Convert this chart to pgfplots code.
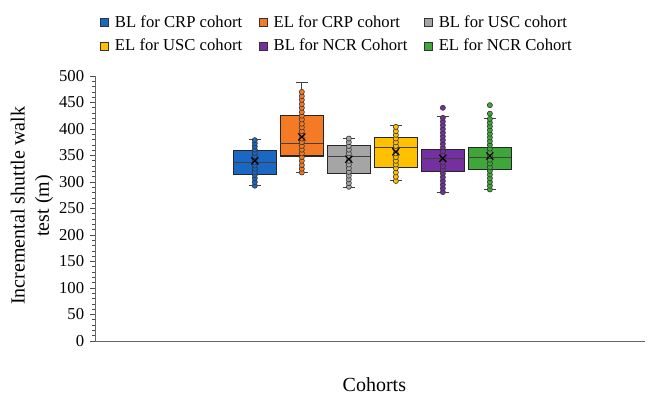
\documentclass[border=0pt]{standalone}
\usepackage{pgfplots}
\pgfplotsset{compat=1.18}
\usepackage{fontspec}
\setmainfont{Liberation Serif}
\definecolor{cblue}{HTML}{1A67C4}
\definecolor{corange}{HTML}{F57A25}
\definecolor{cgray}{HTML}{A5A5A5}
\definecolor{cyellow}{HTML}{FFC000}
\definecolor{cpurple}{HTML}{7430A0}
\definecolor{cgreen}{HTML}{3FA63A}
\pgfplotsset{
  sqimg/.style={legend image code/.code={\draw[##1, line width=0.5pt] (0pt,-2.4pt) rectangle (4.8pt,2.4pt);}},
  ptstyle/.style={only marks, mark=*, mark size=1.55pt, mark options={fill=#1, draw=black!80, line width=0.35pt}},
  boxstyle/.style={fill=#1, draw=black!85, line width=0.65pt},
  lnstyle/.style={draw=black!75, line width=0.6pt},
  meanstyle/.style={only marks, mark=x, mark size=3pt, black, mark options={line width=0.7pt}},
}
\begin{document}
\begin{tikzpicture}
\begin{axis}[
  scale only axis, width=330pt, height=159pt,
  xmin=-2.4, xmax=9.3, ymin=0, ymax=500,
  axis x line=bottom, axis y line=left,
  axis line style={-, black!60, line width=0.5pt},
  xtick=\empty,
  ytick={0,50,...,500},
  minor y tick num=4,
  tick align=outside,
  major tick length=3pt, minor tick length=1.5pt,
  tick style={black!70, line width=0.4pt},
  /pgf/number format/assume math mode=true,
  yticklabel style={font=\fontsize{10}{12}\selectfont},
  xlabel={Cohorts},
  xlabel style={font=\fontsize{12}{14}\selectfont, at={(axis description cs:0.508,-0.166)}, anchor=center},
  ylabel={Incremental shuttle walk\\test (m)},
  ylabel style={font=\fontsize{12}{14.5}\selectfont, align=center, at={(axis description cs:-0.1145,0.51)}, anchor=center},
  legend columns=3,
  legend style={draw=none, fill=none, at={(rel axis cs:0.0,1.255)}, anchor=north west,
    font=\fontsize{10}{12}\selectfont, row sep=1.5pt,
    /tikz/every odd column/.style={column sep=1.5pt},
    /tikz/every even column/.style={column sep=8pt}},
  legend cell align=left,
  clip=false,
]
\addlegendimage{sqimg, fill=cblue, draw=black!80}
\addlegendimage{sqimg, fill=corange, draw=black!80}
\addlegendimage{sqimg, fill=cgray, draw=black!80}
\addlegendimage{sqimg, fill=cyellow, draw=black!80}
\addlegendimage{sqimg, fill=cpurple, draw=black!80}
\addlegendimage{sqimg, fill=cgreen, draw=black!80}
\legend{BL for CRP cohort, EL for CRP cohort, BL for USC cohort, EL for USC cohort, BL for NCR Cohort, EL for NCR Cohort}

% ---- BL CRP (x=1): lw 293, q1 314.5, med 336, q3 360, uw 380, mean 340
\addplot[lnstyle] coordinates {(1,293)(1,314.5)};
\addplot[lnstyle] coordinates {(1,360)(1,380)};
\addplot[lnstyle] coordinates {(0.87,293)(1.13,293)};
\addplot[lnstyle] coordinates {(0.87,380)(1.13,380)};
\addplot[boxstyle=cblue] coordinates {(0.545,314.5)(1.455,314.5)(1.455,360)(0.545,360)} -- cycle;
\addplot[lnstyle] coordinates {(0.545,336)(1.455,336)};
\addplot[ptstyle=cblue] coordinates {(1,293)(1,300)(1,307)(1,313)(1,319)(1,325)(1,331)(1,337)(1,343)(1,349)(1,355)(1,361)(1,367)(1,373)(1,379)};
\addplot[meanstyle] coordinates {(1,340)};

% ---- EL CRP (x=2): lw 317.5, q1 349, med 373, q3 426, uw 487, mean 385
\addplot[lnstyle] coordinates {(2,317.5)(2,349)};
\addplot[lnstyle] coordinates {(2,426)(2,487)};
\addplot[lnstyle] coordinates {(1.87,317.5)(2.13,317.5)};
\addplot[lnstyle] coordinates {(1.87,487)(2.13,487)};
\addplot[boxstyle=corange] coordinates {(1.545,349)(2.455,349)(2.455,426)(1.545,426)} -- cycle;
\addplot[lnstyle] coordinates {(1.545,373)(2.455,373)};
\addplot[ptstyle=corange] coordinates {(2,318)(2,325)(2,332)(2,340)(2,347)(2,354)(2,361)(2,368)(2,375)(2,382)(2,389)(2,396)(2,403)(2,410)(2,418)(2,425)(2,432)(2,440)(2,447)(2,455)(2,462)(2,470)};
\addplot[meanstyle] coordinates {(2,385)};

% ---- BL USC (x=3): lw 290.5, q1 316, med 349, q3 369, uw 383, mean 343
\addplot[lnstyle] coordinates {(3,290.5)(3,316)};
\addplot[lnstyle] coordinates {(3,369)(3,383)};
\addplot[lnstyle] coordinates {(2.87,290.5)(3.13,290.5)};
\addplot[lnstyle] coordinates {(2.87,383)(3.13,383)};
\addplot[boxstyle=cgray] coordinates {(2.545,316)(3.455,316)(3.455,369)(2.545,369)} -- cycle;
\addplot[lnstyle] coordinates {(2.545,349)(3.455,349)};
\addplot[ptstyle=cgray] coordinates {(3,291)(3,298)(3,305)(3,312)(3,319)(3,326)(3,333)(3,340)(3,347)(3,354)(3,361)(3,368)(3,375)(3,382)};
\addplot[meanstyle] coordinates {(3,343)};

% ---- EL USC (x=4): lw 302, q1 327, med 364.7, q3 383.6, uw 407.5, mean 357
\addplot[lnstyle] coordinates {(4,302)(4,327)};
\addplot[lnstyle] coordinates {(4,383.6)(4,407.5)};
\addplot[lnstyle] coordinates {(3.87,302)(4.13,302)};
\addplot[lnstyle] coordinates {(3.87,407.5)(4.13,407.5)};
\addplot[boxstyle=cyellow] coordinates {(3.545,327)(4.455,327)(4.455,383.6)(3.545,383.6)} -- cycle;
\addplot[lnstyle] coordinates {(3.545,364.7)(4.455,364.7)};
\addplot[ptstyle=cyellow] coordinates {(4,302)(4,310)(4,318)(4,326)(4,333)(4,340)(4,347)(4,354)(4,361)(4,368)(4,375)(4,382)(4,389)(4,396)(4,404)};
\addplot[meanstyle] coordinates {(4,357)};

% ---- BL NCR (x=5): lw 281, q1 319.5, med 343.4, q3 361, uw 424, mean 344.7
\addplot[lnstyle] coordinates {(5,281)(5,319.5)};
\addplot[lnstyle] coordinates {(5,361)(5,424)};
\addplot[lnstyle] coordinates {(4.87,281)(5.13,281)};
\addplot[lnstyle] coordinates {(4.87,424)(5.13,424)};
\addplot[boxstyle=cpurple] coordinates {(4.545,319.5)(5.455,319.5)(5.455,361)(4.545,361)} -- cycle;
\addplot[lnstyle] coordinates {(4.545,343.4)(5.455,343.4)};
\addplot[ptstyle=cpurple] coordinates {(5,281)(5,288)(5,295)(5,302)(5,309)(5,316)(5,323)(5,330)(5,337)(5,344)(5,351)(5,358)(5,365)(5,372)(5,379)(5,386)(5,393)(5,400)(5,407)(5,414)(5,421)(5,440)};
\addplot[meanstyle] coordinates {(5,344.7)};

% ---- EL NCR (x=6): lw 285, q1 324, med 347, q3 364.7, uw 420, mean 349
\addplot[lnstyle] coordinates {(6,285)(6,324)};
\addplot[lnstyle] coordinates {(6,364.7)(6,420)};
\addplot[lnstyle] coordinates {(5.87,285)(6.13,285)};
\addplot[lnstyle] coordinates {(5.87,420)(6.13,420)};
\addplot[boxstyle=cgreen] coordinates {(5.545,324)(6.455,324)(6.455,364.7)(5.545,364.7)} -- cycle;
\addplot[lnstyle] coordinates {(5.545,347)(6.455,347)};
\addplot[ptstyle=cgreen] coordinates {(6,286)(6,293)(6,300)(6,307)(6,314)(6,321)(6,328)(6,335)(6,342)(6,349)(6,356)(6,363)(6,370)(6,377)(6,384)(6,391)(6,398)(6,405)(6,412)(6,419)(6,429)(6,445)};
\addplot[meanstyle] coordinates {(6,349)};

\coordinate (BBa) at (rel axis cs:-0.1727,-0.2113);
\coordinate (BBb) at (rel axis cs:1.0091,1.2868);
\end{axis}
\pgfresetboundingbox
\path[use as bounding box] (BBa) rectangle (BBb);
\end{tikzpicture}
\end{document}
